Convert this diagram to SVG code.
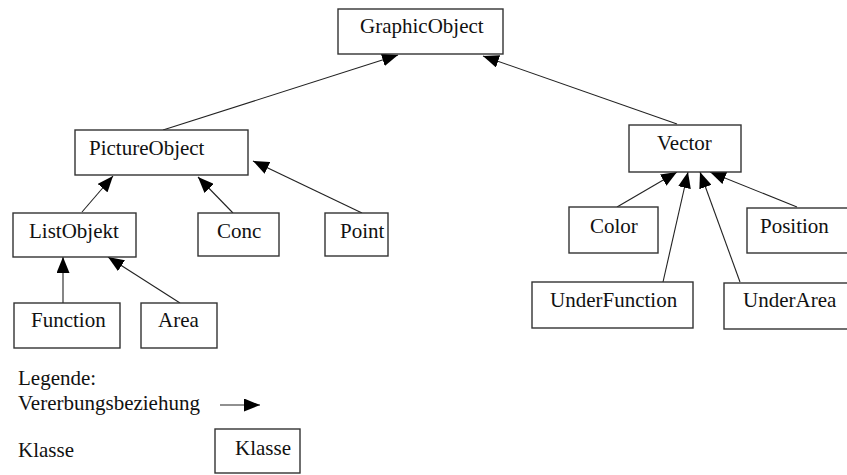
<svg xmlns="http://www.w3.org/2000/svg" width="847" height="475" viewBox="0 0 847 475">
  <style>
    .box { fill: #ffffff; stroke: #333333; stroke-width: 1.4; }
    .lbl { font-family: "Liberation Serif", "Times New Roman", serif; font-size: 21px; fill: #111111; }
    .edge { stroke: #222222; stroke-width: 1.1; fill: none; marker-end: url(#tri); }
  </style>
  <defs>
    <marker id="tri" viewBox="0 0 16 13" refX="16" refY="6.5" markerWidth="16" markerHeight="13" markerUnits="userSpaceOnUse" orient="auto">
      <path d="M0,0 L16,6.5 L0,13 z" fill="#000000"/>
    </marker>
  </defs>
  <rect x="0" y="0" width="847" height="475" fill="#ffffff"/>

  <!-- inheritance connectors -->
  <g id="connectors">
    <line class="edge" x1="163" y1="130" x2="398" y2="55"/>
    <line class="edge" x1="677" y1="124" x2="483" y2="56"/>
    <line class="edge" x1="82" y1="212" x2="113" y2="176"/>
    <line class="edge" x1="233" y1="213" x2="198" y2="177"/>
    <line class="edge" x1="362" y1="213" x2="253" y2="161"/>
    <line class="edge" x1="63" y1="303" x2="63" y2="257"/>
    <line class="edge" x1="180" y1="303" x2="108" y2="257"/>
    <line class="edge" x1="617" y1="207" x2="677" y2="172"/>
    <line class="edge" x1="663" y1="282" x2="688" y2="172"/>
    <line class="edge" x1="740" y1="282" x2="700" y2="172"/>
    <line class="edge" x1="797" y1="207" x2="710" y2="172"/>
  </g>

  <g id="GraphicObject">
    <rect class="box" x="338" y="9" width="165" height="45"/>
    <text class="lbl" x="360" y="33">GraphicObject</text>
  </g>
  <g id="PictureObject">
    <rect class="box" x="75" y="130" width="173" height="45"/>
    <text class="lbl" x="89" y="155">PictureObject</text>
  </g>
  <g id="ListObjekt">
    <rect class="box" x="13" y="213" width="123" height="44"/>
    <text class="lbl" x="29" y="238">ListObjekt</text>
  </g>
  <g id="Conc">
    <rect class="box" x="198" y="213" width="81" height="43"/>
    <text class="lbl" x="217" y="238">Conc</text>
  </g>
  <g id="Point">
    <rect class="box" x="325" y="213" width="63" height="43"/>
    <text class="lbl" x="340" y="238">Point</text>
  </g>
  <g id="Function">
    <rect class="box" x="14" y="303" width="106" height="45"/>
    <text class="lbl" x="31" y="327">Function</text>
  </g>
  <g id="Area">
    <rect class="box" x="141" y="303" width="76" height="45"/>
    <text class="lbl" x="158" y="327">Area</text>
  </g>
  <g id="Vector">
    <rect class="box" x="629" y="125" width="112" height="47"/>
    <text class="lbl" x="657" y="150">Vector</text>
  </g>
  <g id="Color">
    <rect class="box" x="569" y="207" width="89" height="46"/>
    <text class="lbl" x="590" y="233">Color</text>
  </g>
  <g id="Position">
    <rect class="box" x="747" y="208" width="110" height="45"/>
    <text class="lbl" x="760" y="233">Position</text>
  </g>
  <g id="UnderFunction">
    <rect class="box" x="532" y="282" width="161" height="46"/>
    <text class="lbl" x="550" y="307">UnderFunction</text>
  </g>
  <g id="UnderArea">
    <rect class="box" x="724" y="283" width="130" height="46"/>
    <text class="lbl" x="743" y="307">UnderArea</text>
  </g>

  <!-- legend -->
  <g id="legend">
    <text class="lbl" x="18" y="385">Legende:</text>
    <text class="lbl" x="18" y="410">Vererbungsbeziehung</text>
    <line class="edge" x1="220" y1="405" x2="260" y2="405"/>
    <text class="lbl" x="18" y="457">Klasse</text>
    <rect class="box" x="215" y="429" width="85" height="44"/>
    <text class="lbl" x="235" y="455">Klasse</text>
  </g>
</svg>
